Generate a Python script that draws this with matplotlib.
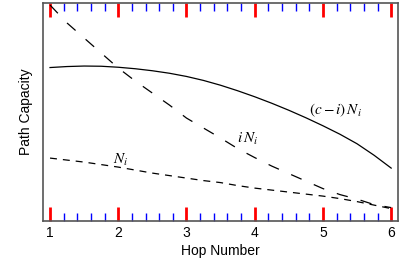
import matplotlib
matplotlib.use("Agg")
from matplotlib import pyplot as plt
from matplotlib.ticker import MultipleLocator

# values (arbitrary units)
hops = [1, 1.25, 1.5, 1.75, 2, 2.25, 2.5, 2.75, 3, 3.25, 3.5, 3.75, 4,
        4.25, 4.5, 4.75, 5, 5.25, 5.5, 5.75, 6]
cap_rest = [153.5, 154.5, 155, 154.8, 153.8, 152.3, 150.3, 147.8, 144.6,
            140.6, 135.8, 130.3, 124.3, 117.8, 110.8, 103.3, 95.3, 86.8,
            77.3, 65.8, 53]
cap_i = [216, 198, 183, 168, 153, 140, 128, 116, 103, 93, 83, 72.5, 63.5,
         55, 47.5, 40, 32.5, 26.5, 22, 16.5, 13.5]
cap_n = [63, 61, 59, 56.5, 54, 51, 48, 45.5, 43, 40.5, 38.5, 35.5, 33,
         31, 29, 27, 25, 22.5, 19.5, 16, 12.5]

plt.rcParams['font.family'] = ['Liberation Sans', 'DejaVu Sans']
plt.rcParams['mathtext.fontset'] = 'stix'

lw = 0.9
fig = plt.figure(figsize=(4, 2.74), dpi=100)
ax = fig.add_axes([0.1075, 0.193, 0.8875, 0.796])

ax.plot(hops, cap_rest, color='black', lw=lw)
ax.plot(hops, cap_i, color='black', lw=lw, dashes=(8.2 / lw, 9.6 / lw))
ax.plot(hops, cap_n, color='black', lw=lw, dashes=(5 / lw, 4.3 / lw))

ax.set_xlim(0.897, 6.10)
ax.set_ylim(0, 218)
ax.xaxis.set_major_locator(MultipleLocator(1))
ax.xaxis.set_minor_locator(MultipleLocator(0.2))
ax.tick_params(axis='x', which='major', direction='in', length=10, width=2,
               top=True, color='red', labelsize=10)
ax.tick_params(axis='x', which='minor', direction='in', length=6, width=1,
               top=True, color='blue')
ax.set_yticks([])

ax.text(5.18, 111, r'$(c-i)\,N_i$', fontsize=11, ha='center', va='center')
ax.text(3.90, 82, r'$i\,N_i$', fontsize=11, ha='center', va='center')
ax.text(2.03, 61, r'$N_i$', fontsize=11, ha='center', va='center')

for s in ax.spines.values():
    s.set_edgecolor('#555555')
    s.set_linewidth(1.2)

ax.set_xlabel('Hop Number', fontsize=10, labelpad=3)
ax.set_ylabel('Path Capacity', fontsize=10, labelpad=7)

fig.savefig('out.png', dpi=100)
